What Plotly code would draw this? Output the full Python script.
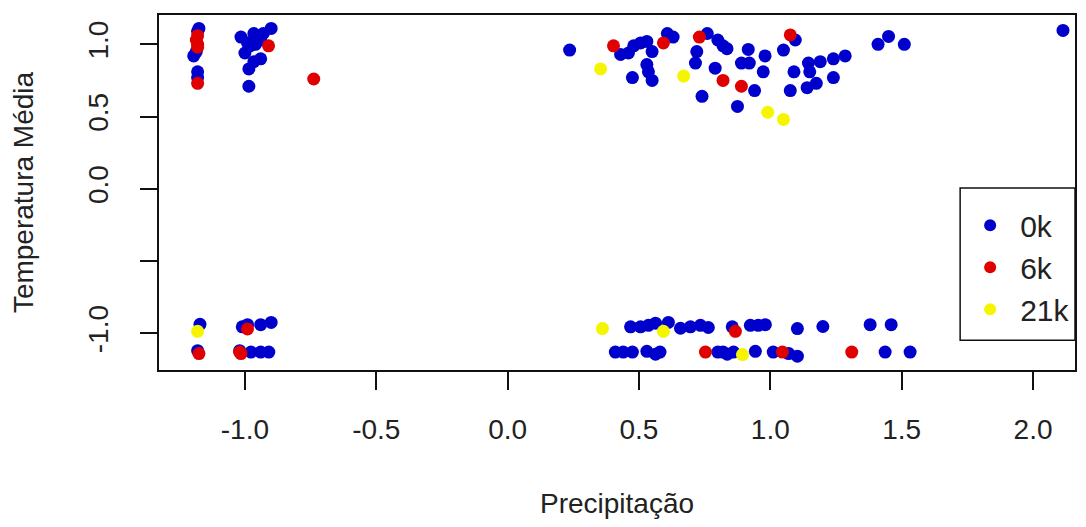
import plotly.graph_objects as go

# 0k (blue)
x_0k = [-1.175, -1.18, -1.195, -1.185, -1.18, -1.18,
        -0.985, -0.985, -0.966, -0.94, -1.0, -0.99, -1.015, -0.966, -0.94, -0.90, -0.93, -0.98, -0.96,
        0.236, 0.43, 0.46, 0.48, 0.506, 0.53, 0.55, 0.475, 0.53, 0.536, 0.55, 0.608, 0.63, 0.76, 0.72,
        0.715, 0.80, 0.82, 0.835, 0.79, 0.74, 0.875, 1.095, 0.916, 0.92, 0.89, 0.98, 1.05, 0.973, 0.94,
        1.09, 1.076, 1.145, 1.15, 1.19, 1.24, 1.285, 1.14, 1.175, 1.24, 1.41, 1.45, 1.51, 2.114,
        -1.171, -1.18, -1.02, -0.99, -1.01, -0.94, -0.90, -0.977, -0.94, -0.909,
        0.468, 0.506, 0.536, 0.563, 0.612, 0.658, 0.696, 0.734, 0.764, 0.855, 0.924, 0.954, 0.981,
        1.103, 1.20, 1.38, 1.46,
        0.41, 0.44, 0.475, 0.53, 0.563, 0.58, 0.80, 0.836, 0.86, 0.82, 0.943, 1.011, 1.103, 1.437,
        1.532, 1.07]
y_0k = [1.11, 1.09, 0.92, 0.95, 0.81, 0.77,
        0.71, 0.83, 0.88, 0.90, 0.94, 1.01, 1.05, 1.075, 1.03, 1.11, 1.075, 0.99, 1.0,
        0.96, 0.93, 0.94, 0.99, 1.01, 1.02, 0.95, 0.77, 0.86, 0.81, 0.75, 1.075, 1.05, 1.075, 0.95,
        0.87, 1.03, 0.99, 0.97, 0.835, 0.64, 0.57, 1.03, 0.965, 0.87, 0.87, 0.92, 0.96, 0.81, 0.68,
        0.81, 0.68, 0.87, 0.81, 0.88, 0.90, 0.92, 0.70, 0.73, 0.77, 1.0, 1.055, 1.0, 1.096,
        -0.938, -1.12, -1.12, -0.94, -0.955, -0.94, -0.925, -1.13, -1.13, -1.13,
        -0.955, -0.955, -0.945, -0.93, -0.925, -0.965, -0.955, -0.945, -0.96, -0.955, -0.945, -0.945, -0.94,
        -0.967, -0.953, -0.94, -0.94,
        -1.13, -1.13, -1.13, -1.125, -1.145, -1.13, -1.13, -1.145, -1.13, -1.13, -1.125, -1.13, -1.158, -1.13,
        -1.13, -1.14]

# 6k (red)
x_6k = [-1.18, -1.185, -1.18, -1.18, -1.18, -0.91, -0.738,
        0.403, 0.593, 0.73, 0.82, 1.076, 0.89,
        -0.99, -1.175, -1.015, -1.02,
        0.867, 0.753, 1.046, 1.31]
y_6k = [1.06, 1.03, 1.0, 0.98, 0.73, 0.99, 0.76,
        0.99, 1.01, 1.05, 0.75, 1.065, 0.71,
        -0.97, -1.14, -1.14, -1.13,
        -0.986, -1.13, -1.13, -1.13]

# 21k (yellow)
x_21k = [0.354, 0.67, 0.99, 1.05, -1.18, 0.361, 0.593, 0.894]
y_21k = [0.83, 0.78, 0.53, 0.48, -0.986, -0.967, -0.986, -1.147]

series = [("0k", x_0k, y_0k, "#0000CD"),
          ("6k", x_6k, y_6k, "#E00000"),
          ("21k", x_21k, y_21k, "#F5F500")]

x_ticks = [-1.0, -0.5, 0.0, 0.5, 1.0, 1.5, 2.0]
x_ticktext = ["-1.0", "-0.5", "0.0", "0.5", "1.0", "1.5", "2.0"]
y_ticks = [-1.0, -0.5, 0.0, 0.5, 1.0]
y_ticktext = ["-1.0", "", "0.0", "0.5", "1.0"]

FONT = "Liberation Sans, Arial, sans-serif"
TXT = "#222222"
FS = 28

fig = go.Figure()
for name, xs, ys, col in series:
    fig.add_trace(go.Scatter(x=xs, y=ys, mode="markers", name=name, legendgroup=name,
                             marker=dict(color=col, size=13, line=dict(width=0))))

# legend frame (paper coords)
fig.add_shape(type="rect", xref="paper", yref="paper", x0=0.8746, x1=1.0, y0=0.0836, y1=0.5125,
              line=dict(color="#111111", width=1.5), fillcolor="white", layer="above")

# page body has an 8px margin; size the figure so the plot lands where the reference has it
fig.update_layout(
    width=1078, height=511,
    margin=dict(l=150, r=11, t=5, b=147),
    paper_bgcolor="white", plot_bgcolor="white",
    font=dict(family=FONT, size=FS, color=TXT),
    showlegend=True,
    legend=dict(x=0.8746, xanchor="left", y=0.481, yanchor="top",
                borderwidth=0, bgcolor="rgba(0,0,0,0)",
                font=dict(size=30, color=TXT), tracegroupgap=0,
                itemsizing="constant", itemwidth=50),
)
fig.update_xaxes(range=[-1.327, 2.1597], tickvals=x_ticks, ticktext=x_ticktext,
                 ticks="outside", ticklen=18, tickwidth=1.5, tickcolor="#111111",
                 showline=True, linecolor="#111111", linewidth=1.5, mirror=True,
                 showgrid=False, zeroline=False, ticklabelstandoff=16,
                 title=dict(text="Precipitação", standoff=49, font=dict(size=FS, color=TXT)))
fig.update_yaxes(range=[-1.254, 1.203], tickvals=y_ticks, ticktext=y_ticktext,
                 ticks="outside", ticklen=17, tickwidth=1.5, tickcolor="#111111",
                 showline=True, linecolor="#111111", linewidth=1.5, mirror=True,
                 showgrid=False, zeroline=False, tickangle=-90, ticklabelstandoff=21,
                 title=dict(text="Temperatura Média", standoff=50, font=dict(size=FS, color=TXT)))

fig.write_html("out.html")
